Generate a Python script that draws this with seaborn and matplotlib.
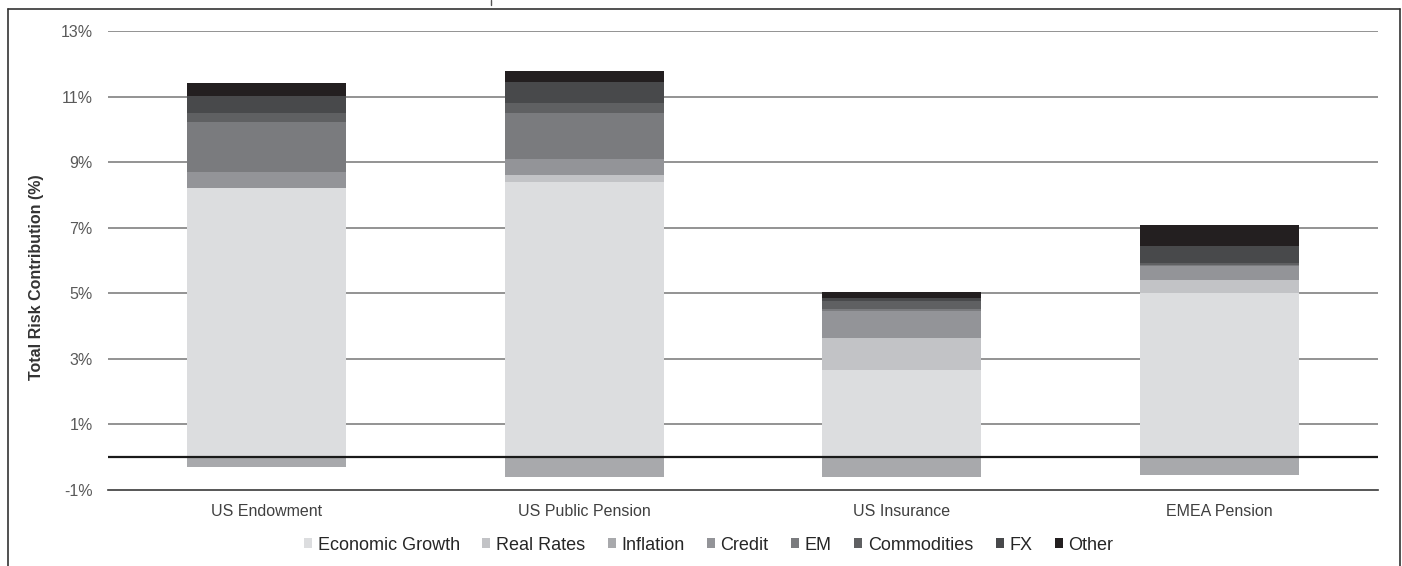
import numpy as np
import pandas as pd
import matplotlib
matplotlib.use("Agg")
import matplotlib.pyplot as plt
from matplotlib.patches import Patch
from matplotlib.lines import Line2D
import seaborn as sns

# ---- data ----
funds = ["US Endowment", "US Public Pension", "US Insurance", "EMEA Pension"]
series = ["Economic Growth", "Real Rates", "Inflation", "Credit", "EM",
          "Commodities", "FX", "Other"]
economic_growth = [8.20, 8.38, 2.67, 5.02]
real_rates      = [0.00, 0.22, 0.98, 0.40]
inflation       = [-0.30, -0.59, -0.59, -0.53]
credit          = [0.51, 0.51, 0.82, 0.40]
em              = [1.50, 1.38, 0.05, 0.05]
commodities     = [0.28, 0.30, 0.23, 0.05]
fx              = [0.52, 0.64, 0.12, 0.52]
other           = [0.40, 0.34, 0.18, 0.64]
y_ticks = [-1, 1, 3, 5, 7, 9, 11, 13]
y_tick_labels = ["-1%", "1%", "3%", "5%", "7%", "9%", "11%", "13%"]

colors = ["#dcdddf", "#c2c3c6", "#a8a9ac", "#939498", "#7a7b7e",
          "#5f6062", "#48494b", "#231f20"]

values = [economic_growth, real_rates, inflation, credit, em,
          commodities, fx, other]

sns.set_theme(style="white")
plt.rcParams["font.family"] = ["Liberation Sans", "DejaVu Sans"]

W, H = 1402, 566
fig = plt.figure(figsize=(W / 100, H / 100), dpi=100)
ax = fig.add_axes([108 / W, 1 - 490 / H, 1270 / W, 459 / H])

pos_bottom = np.zeros(len(funds))
neg_bottom = np.zeros(len(funds))
for name, vals, col in zip(series, values, colors):
    vals = np.asarray(vals, dtype=float)
    bottoms = np.where(vals >= 0, pos_bottom, neg_bottom)
    df = pd.DataFrame({"fund": funds, "value": vals})
    sns.barplot(data=df, x="fund", y="value", order=funds, color=col,
                saturation=1, width=0.5, bottom=bottoms, errorbar=None,
                linewidth=0, ax=ax, zorder=2)
    pos_bottom = pos_bottom + np.where(vals >= 0, vals, 0)
    neg_bottom = neg_bottom + np.where(vals < 0, vals, 0)

ax.set_xlim(-0.5, 3.5)
ax.set_ylim(-1, 13)
ax.set_yticks(y_ticks)
ax.set_yticklabels(y_tick_labels)
for t in y_ticks[1:]:
    ax.axhline(t, color="#8a8a8a", lw=1.3, zorder=1)
ax.axhline(0, color="#1a1a1a", lw=1.6, zorder=3)

for s in ["left", "right", "top"]:
    ax.spines[s].set_visible(False)
ax.spines["bottom"].set_color("#3a3a3a")
ax.spines["bottom"].set_linewidth(1.2)
ax.tick_params(axis="y", length=0, pad=11, labelsize=11.5, labelcolor="#595959")
ax.tick_params(axis="x", length=0, pad=10, labelsize=11.5, labelcolor="#404040")
ax.set_xlabel("")
ax.set_ylabel("Total Risk Contribution (%)", fontsize=11.5, fontweight="bold",
              color="#333333")
ax.yaxis.set_label_coords(-0.0505, 0.464)

handles = [Patch(facecolor=c, edgecolor="none", label=n) for n, c in zip(series, colors)]
fig.legend(handles=handles, loc="center", bbox_to_anchor=(0.5055, 1 - 545 / H),
           ncol=8, frameon=False, fontsize=13, handlelength=0.45, handleheight=0.45,
           handletextpad=0.3, columnspacing=1.25, labelcolor="#262626")

# outer frame
fc = "#333333"
fig.add_artist(Line2D([7.5 / W, 7.5 / W], [0, 1 - 8.5 / H], color=fc, lw=1.2))
fig.add_artist(Line2D([7.5 / W, 1399.5 / W], [1 - 8.5 / H, 1 - 8.5 / H], color=fc, lw=1.2))
fig.add_artist(Line2D([1399.5 / W, 1399.5 / W], [0, 1 - 8.5 / H], color=fc, lw=1.2))
fig.add_artist(Line2D([491 / W, 491 / W], [1, 1 - 5 / H], color="#555555", lw=1))

fig.savefig("out.png", dpi=100)
